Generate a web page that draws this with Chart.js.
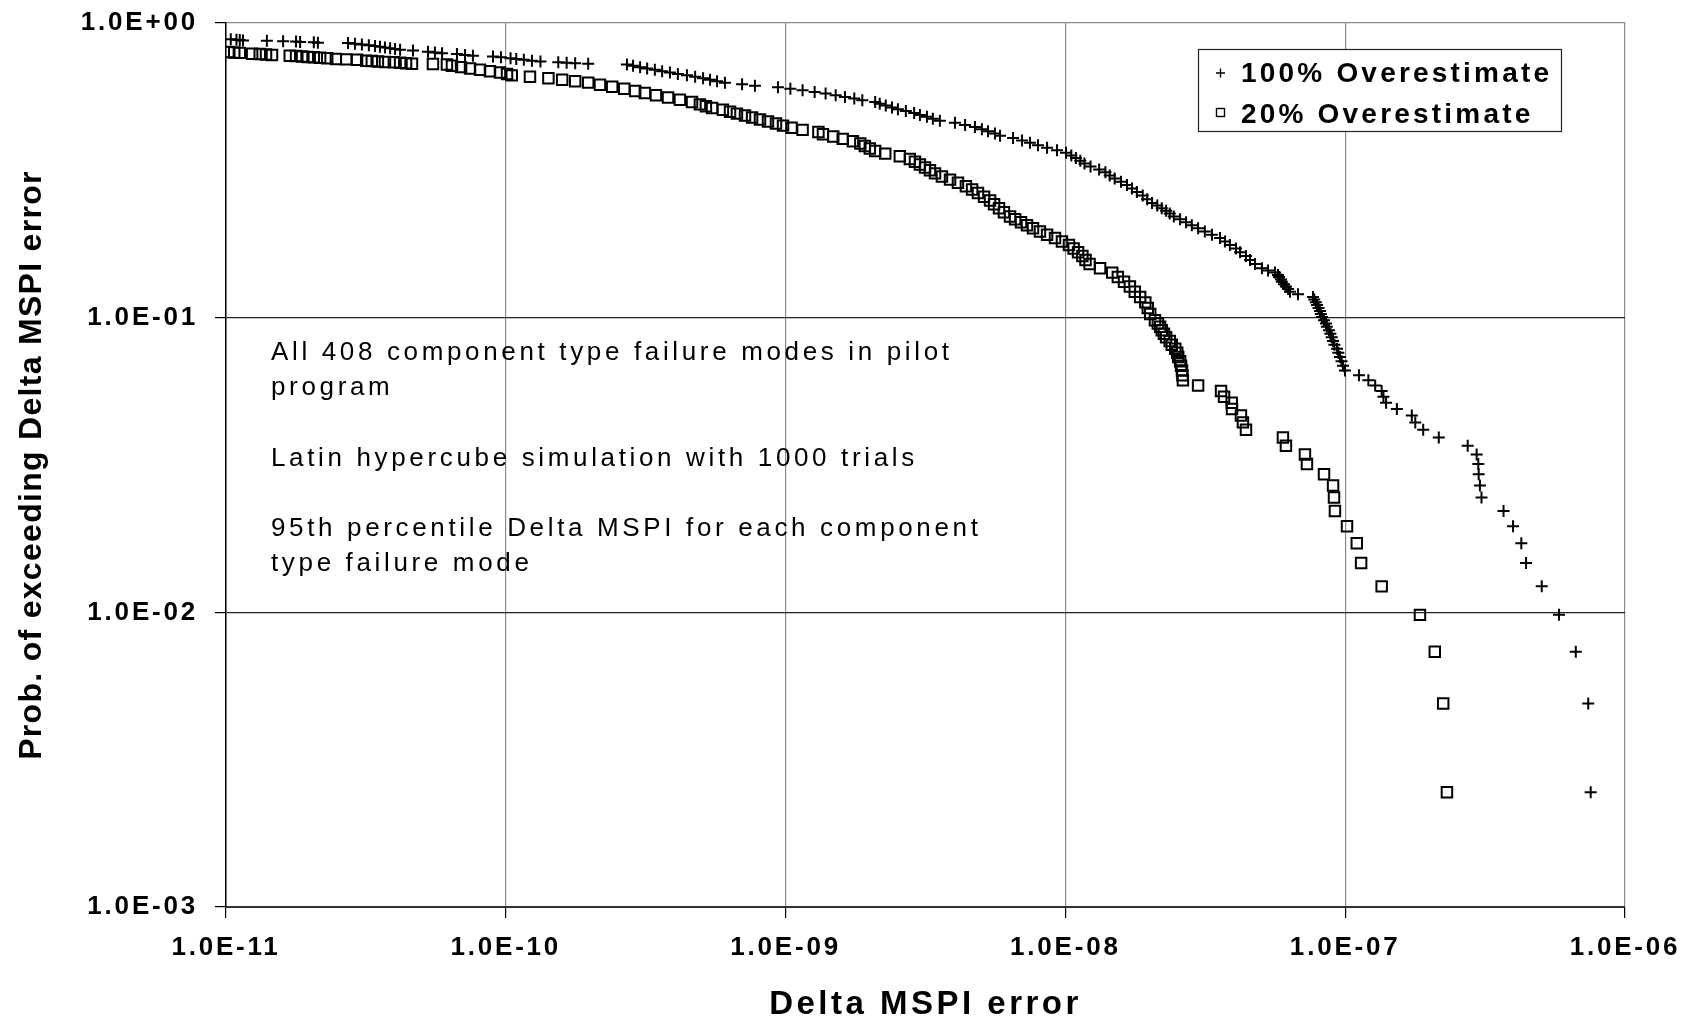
<!DOCTYPE html>
<html>
<head>
<meta charset="utf-8">
<script src="https://cdn.jsdelivr.net/npm/chart.js@4.4.1/dist/chart.umd.min.js"></script>
<style>
  html, body { margin: 0; padding: 0; background: #fff; }
  canvas { display: block; }
</style>
</head>
<body>
<canvas id="mspi" width="1690" height="1021"></canvas>
<script>
// Axis ticks (decades only)
const xTicks = [1e-11, 1e-10, 1e-9, 1e-8, 1e-7, 1e-6];
const xTickLabels = ['1.0E-11', '1.0E-10', '1.0E-09', '1.0E-08', '1.0E-07', '1.0E-06'];
const yTicks = [1e-3, 1e-2, 1e-1, 1];
const yTickLabels = ['1.0E-03', '1.0E-02', '1.0E-01', '1.0E+00'];

const seriesNames = ['100% Overestimate', '20% Overestimate'];

// 100% overestimate: Delta MSPI error and exceedance probability
const over100X = [
  7.54e-7, 7.39e-7, 6.67e-7, 5.81e-7, 5.04e-7, 4.43e-7, 4.26e-7, 3.98e-7, 3.68e-7, 3.07e-7,
  3.03e-7, 3.00e-7, 2.99e-7, 2.95e-7, 2.74e-7, 2.16e-7, 1.90e-7, 1.78e-7, 1.73e-7, 1.53e-7,
  1.40e-7, 1.37e-7, 1.35e-7, 1.28e-7, 1.21e-7, 1.12e-7, 9.98e-8, 9.82e-8, 9.70e-8, 9.58e-8,
  9.45e-8, 9.35e-8, 9.15e-8, 9.05e-8, 8.95e-8, 8.85e-8, 8.75e-8, 8.60e-8, 8.54e-8, 8.40e-8,
  8.26e-8, 8.18e-8, 8.13e-8, 8.03e-8, 7.93e-8, 7.85e-8, 7.75e-8, 7.67e-8, 6.78e-8, 6.35e-8,
  6.25e-8, 6.14e-8, 6.04e-8, 5.94e-8, 5.90e-8, 5.80e-8, 5.75e-8, 5.61e-8, 5.30e-8, 5.04e-8,
  4.76e-8, 4.57e-8, 4.42e-8, 4.21e-8, 4.07e-8, 3.87e-8, 3.72e-8, 3.57e-8, 3.34e-8, 3.15e-8,
  2.98e-8, 2.83e-8, 2.70e-8, 2.57e-8, 2.44e-8, 2.36e-8, 2.29e-8, 2.21e-8, 2.13e-8, 2.04e-8,
  1.96e-8, 1.89e-8, 1.80e-8, 1.73e-8, 1.66e-8, 1.58e-8, 1.50e-8, 1.44e-8, 1.39e-8, 1.32e-8,
  1.23e-8, 1.17e-8, 1.13e-8, 1.09e-8, 1.05e-8, 1.005e-8, 9.33e-9, 8.60e-9, 7.98e-9, 7.47e-9,
  7.00e-9, 6.50e-9, 5.84e-9, 5.60e-9, 5.29e-9, 5.03e-9, 4.75e-9, 4.38e-9, 4.03e-9, 3.56e-9,
  3.36e-9, 3.20e-9, 3.02e-9, 2.88e-9, 2.69e-9, 2.52e-9, 2.40e-9, 2.28e-9, 2.17e-9, 2.09e-9,
  1.88e-9, 1.76e-9, 1.63e-9, 1.51e-9, 1.39e-9, 1.27e-9, 1.15e-9, 1.04e-9, 9.39e-10, 7.77e-10,
  6.99e-10, 6.07e-10, 5.69e-10, 5.37e-10, 5.07e-10, 4.75e-10, 4.44e-10, 4.12e-10, 3.86e-10, 3.62e-10,
  3.41e-10, 3.20e-10, 3.02e-10, 2.85e-10, 2.71e-10, 1.97e-10, 1.77e-10, 1.65e-10, 1.54e-10, 1.33e-10,
  1.24e-10, 1.16e-10, 1.09e-10, 1.04e-10, 9.61e-11, 9.00e-11, 7.63e-11, 7.15e-11, 6.69e-11, 5.92e-11,
  5.58e-11, 5.27e-11, 4.66e-11, 4.19e-11, 4.02e-11, 3.86e-11, 3.70e-11, 3.55e-11, 3.41e-11, 3.24e-11,
  3.06e-11, 2.89e-11, 2.73e-11, 2.13e-11, 2.06e-11, 1.84e-11, 1.78e-11, 1.60e-11, 1.40e-11, 1.15e-11,
  1.12e-11, 1.09e-11, 1.04e-11
];
const over100P = [
  0.002451, 0.004902, 0.007353, 0.009804, 0.01225, 0.01471, 0.01716, 0.01961, 0.02206, 0.02451,
  0.02696, 0.02941, 0.03186, 0.03431, 0.03676, 0.03922, 0.04167, 0.04412, 0.04657, 0.04902,
  0.05147, 0.05392, 0.05637, 0.05882, 0.06127, 0.06373, 0.06618, 0.06863, 0.07108, 0.07353,
  0.07598, 0.07843, 0.08088, 0.08333, 0.08578, 0.08824, 0.09069, 0.09314, 0.09559, 0.09804,
  0.1005, 0.1029, 0.1054, 0.1078, 0.1103, 0.1127, 0.1152, 0.1176, 0.1201, 0.1225,
  0.1250, 0.1275, 0.1299, 0.1324, 0.1348, 0.1373, 0.1397, 0.1422, 0.1446, 0.1471,
  0.1520, 0.1569, 0.1618, 0.1667, 0.1716, 0.1765, 0.1814, 0.1863, 0.1912, 0.1961,
  0.2010, 0.2059, 0.2108, 0.2157, 0.2206, 0.2255, 0.2304, 0.2353, 0.2402, 0.2451,
  0.2525, 0.2598, 0.2672, 0.2745, 0.2819, 0.2892, 0.2966, 0.3039, 0.3113, 0.3186,
  0.3260, 0.3333, 0.3407, 0.3480, 0.3554, 0.3627, 0.3701, 0.3775, 0.3848, 0.3922,
  0.3995, 0.4069, 0.4142, 0.4216, 0.4289, 0.4363, 0.4436, 0.4510, 0.4583, 0.4657,
  0.4730, 0.4804, 0.4877, 0.4951, 0.5025, 0.5098, 0.5172, 0.5245, 0.5319, 0.5392,
  0.5466, 0.5539, 0.5613, 0.5686, 0.5760, 0.5833, 0.5907, 0.5980, 0.6054, 0.6127,
  0.6201, 0.6275, 0.6348, 0.6422, 0.6495, 0.6569, 0.6642, 0.6716, 0.6789, 0.6863,
  0.6936, 0.7010, 0.7083, 0.7157, 0.7230, 0.7279, 0.7304, 0.7328, 0.7353, 0.7402,
  0.7451, 0.7500, 0.7549, 0.7598, 0.7647, 0.7696, 0.7745, 0.7794, 0.7843, 0.7892,
  0.7941, 0.7990, 0.8064, 0.8113, 0.8162, 0.8211, 0.8260, 0.8309, 0.8358, 0.8407,
  0.8456, 0.8505, 0.8554, 0.8578, 0.8603, 0.8627, 0.8652, 0.8676, 0.8701, 0.8725,
  0.8750, 0.8775, 0.8799
];

// 20% overestimate
const over20X = [
  2.31e-7, 2.24e-7, 2.09e-7, 1.85e-7, 1.35e-7, 1.14e-7, 1.10e-7, 1.015e-7, 9.19e-8, 9.12e-8,
  9.05e-8, 8.40e-8, 7.30e-8, 7.18e-8, 6.14e-8, 5.99e-8, 4.42e-8, 4.31e-8, 4.24e-8, 3.94e-8,
  3.93e-8, 3.69e-8, 3.60e-8, 2.98e-8, 2.63e-8, 2.62e-8, 2.61e-8, 2.59e-8, 2.57e-8, 2.53e-8,
  2.51e-8, 2.47e-8, 2.40e-8, 2.36e-8, 2.29e-8, 2.25e-8, 2.21e-8, 2.18e-8, 2.14e-8, 2.09e-8,
  2.01e-8, 1.97e-8, 1.93e-8, 1.85e-8, 1.77e-8, 1.70e-8, 1.62e-8, 1.54e-8, 1.47e-8, 1.33e-8,
  1.22e-8, 1.18e-8, 1.15e-8, 1.11e-8, 1.07e-8, 1.03e-8, 9.72e-9, 9.18e-9, 8.60e-9, 8.11e-9,
  7.66e-9, 7.29e-9, 6.94e-9, 6.61e-9, 6.34e-9, 6.03e-9, 5.79e-9, 5.56e-9, 5.38e-9, 5.12e-9,
  4.87e-9, 4.64e-9, 4.41e-9, 4.13e-9, 3.87e-9, 3.62e-9, 3.42e-9, 3.28e-9, 3.15e-9, 3.02e-9,
  2.90e-9, 2.78e-9, 2.56e-9, 2.27e-9, 2.09e-9, 2.00e-9, 1.92e-9, 1.85e-9, 1.74e-9, 1.60e-9,
  1.48e-9, 1.36e-9, 1.31e-9, 1.15e-9, 1.05e-9, 9.79e-10, 9.24e-10, 8.65e-10, 8.10e-10, 7.59e-10,
  7.16e-10, 6.70e-10, 6.33e-10, 5.97e-10, 5.46e-10, 5.19e-10, 4.94e-10, 4.63e-10, 4.19e-10, 3.80e-10,
  3.44e-10, 3.14e-10, 2.90e-10, 2.65e-10, 2.40e-10, 2.17e-10, 1.97e-10, 1.77e-10, 1.59e-10, 1.42e-10,
  1.22e-10, 1.05e-10, 1.01e-10, 9.53e-11, 8.78e-11, 8.09e-11, 7.45e-11, 6.92e-11, 6.42e-11, 6.16e-11,
  5.49e-11, 4.62e-11, 4.40e-11, 4.19e-11, 3.98e-11, 3.70e-11, 3.49e-11, 3.32e-11, 3.17e-11, 2.94e-11,
  2.69e-11, 2.47e-11, 2.30e-11, 2.17e-11, 2.06e-11, 1.96e-11, 1.87e-11, 1.78e-11, 1.69e-11, 1.46e-11,
  1.39e-11, 1.32e-11, 1.24e-11, 1.12e-11, 1.07e-11, 1.02e-11
];
const over20P = [
  0.002451, 0.004902, 0.007353, 0.009804, 0.01225, 0.01471, 0.01716, 0.01961, 0.02206, 0.02451,
  0.02696, 0.02941, 0.03186, 0.03431, 0.03676, 0.03922, 0.04167, 0.04412, 0.04657, 0.04902,
  0.05147, 0.05392, 0.05637, 0.05882, 0.06127, 0.06373, 0.06618, 0.06863, 0.07108, 0.07353,
  0.07598, 0.07843, 0.08088, 0.08333, 0.08578, 0.08824, 0.09069, 0.09314, 0.09559, 0.09804,
  0.1029, 0.1078, 0.1127, 0.1176, 0.1225, 0.1275, 0.1324, 0.1373, 0.1422, 0.1471,
  0.1520, 0.1569, 0.1618, 0.1667, 0.1716, 0.1765, 0.1814, 0.1863, 0.1912, 0.1961,
  0.2010, 0.2059, 0.2108, 0.2157, 0.2206, 0.2279, 0.2353, 0.2426, 0.2500, 0.2574,
  0.2647, 0.2721, 0.2794, 0.2868, 0.2941, 0.3015, 0.3088, 0.3162, 0.3235, 0.3309,
  0.3382, 0.3456, 0.3529, 0.3603, 0.3676, 0.3750, 0.3824, 0.3897, 0.3971, 0.4044,
  0.4118, 0.4191, 0.4265, 0.4338, 0.4412, 0.4485, 0.4559, 0.4632, 0.4706, 0.4779,
  0.4853, 0.4926, 0.5000, 0.5074, 0.5147, 0.5221, 0.5294, 0.5392, 0.5490, 0.5588,
  0.5686, 0.5784, 0.5882, 0.5980, 0.6078, 0.6176, 0.6275, 0.6348, 0.6422, 0.6495,
  0.6569, 0.6642, 0.6716, 0.6789, 0.6863, 0.6936, 0.7010, 0.7083, 0.7157, 0.7230,
  0.7255, 0.7279, 0.7304, 0.7328, 0.7353, 0.7377, 0.7402, 0.7426, 0.7451, 0.7500,
  0.7525, 0.7549, 0.7598, 0.7623, 0.7647, 0.7672, 0.7696, 0.7721, 0.7745, 0.7794,
  0.7819, 0.7843, 0.7868, 0.7917, 0.7941, 0.7966
];

const noteLines = [
  'All 408 component type failure modes in pilot',
  'program',
  '',
  'Latin hypercube simulation with 1000 trials',
  '',
  '95th percentile Delta MSPI for each component',
  'type failure mode'
];

const FONT = '"Liberation Sans", Arial, sans-serif';

const toPoints = (xs, ps) => xs.map((x, i) => ({ x: x, y: ps[i] }));

// letter spacing for the axis text drawn by Chart.js: [tick labels, title]
const spacedText = {
  id: 'spacedText',
  afterUpdate(chart) {
    const spacing = { x: ['2.8px', '3.5px'], y: ['2.8px', '1.3px'] };
    Object.keys(spacing).forEach(id => {
      const s = chart.scales[id];
      if (s._spaced) return;
      const drawLabels = s.drawLabels.bind(s);
      const drawTitle = s.drawTitle.bind(s);
      s.drawLabels = function (area) {
        this.ctx.save();
        this.ctx.letterSpacing = spacing[id][0];
        drawLabels(area);
        this.ctx.restore();
      };
      s.drawTitle = function () {
        this.ctx.save();
        this.ctx.letterSpacing = spacing[id][1];
        drawTitle();
        this.ctx.restore();
      };
      s._spaced = true;
    });
  }
};

// notes text and the boxed legend
const notesAndLegend = {
  id: 'notesAndLegend',
  afterDraw(chart) {
    const ctx = chart.ctx;
    const area = chart.chartArea;
    ctx.save();
    ctx.fillStyle = '#000';
    ctx.textBaseline = 'alphabetic';
    ctx.textAlign = 'left';
    ctx.font = '26px ' + FONT;
    ctx.letterSpacing = '3.65px';
    noteLines.forEach((line, i) => {
      if (line) ctx.fillText(line, area.left + 45, 360 + i * 35.2);
    });

    // legend
    const lx = 1198, ly = 49, lw = 363, lh = 82;
    ctx.fillStyle = '#fff';
    ctx.fillRect(lx, ly, lw, lh);
    ctx.strokeStyle = '#222';
    ctx.lineWidth = 1.2;
    ctx.strokeRect(lx + 0.5, ly + 0.5, lw, lh);

    ctx.strokeStyle = '#000';
    ctx.lineWidth = 1.4;
    ctx.beginPath();
    ctx.moveTo(1216, 73); ctx.lineTo(1225, 73);
    ctx.moveTo(1220.5, 68.5); ctx.lineTo(1220.5, 77.5);
    ctx.stroke();
    ctx.strokeRect(1216.5, 108.5, 8, 8);

    ctx.fillStyle = '#000';
    ctx.font = 'bold 28px ' + FONT;
    ctx.letterSpacing = '3.2px';
    ctx.fillText(seriesNames[0], 1241, 82);
    ctx.fillText(seriesNames[1], 1241, 123);
    ctx.restore();
  }
};

new Chart(document.getElementById('mspi'), {
  type: 'scatter',
  data: {
    datasets: [
      {
        label: seriesNames[0],
        data: toPoints(over100X, over100P),
        pointStyle: 'cross',
        pointRadius: 6,
        pointBorderWidth: 2,
        borderColor: '#000',
        backgroundColor: '#000'
      },
      {
        label: seriesNames[1],
        data: toPoints(over20X, over20P),
        pointStyle: 'rect',
        pointRadius: 7.4,
        pointBorderWidth: 2,
        borderColor: '#000',
        backgroundColor: 'rgba(0,0,0,0)'
      }
    ]
  },
  options: {
    responsive: false,
    animation: false,
    events: [],
    layout: { padding: { left: 0, top: 23, right: 65, bottom: 0 } },
    plugins: {
      legend: { display: false },
      tooltip: { enabled: false }
    },
    scales: {
      x: {
        type: 'logarithmic',
        min: xTicks[0],
        max: xTicks[xTicks.length - 1],
        afterBuildTicks: scale => { scale.ticks = xTicks.map(v => ({ value: v })); },
        afterFit: scale => {
          scale.height = 114;
          scale.paddingLeft = 0;
          scale.paddingRight = 0;
        },
        grid: {
          color: '#8a8a8a',
          lineWidth: 1.2,
          tickColor: '#000',
          tickLength: 11
        },
        border: { color: '#333', width: 2 },
        ticks: {
          autoSkip: false,
          maxRotation: 0,
          padding: 17,
          color: '#000',
          font: { family: FONT, size: 26, weight: 'bold', lineHeight: 1 },
          callback: (v, i) => xTickLabels[i]
        },
        title: {
          display: true,
          text: 'Delta MSPI error',
          color: '#000',
          padding: { top: 0, bottom: 0 },
          font: { family: FONT, size: 33, weight: 'bold', lineHeight: 1 }
        }
      },
      y: {
        type: 'logarithmic',
        min: yTicks[0],
        max: yTicks[yTicks.length - 1],
        afterBuildTicks: scale => { scale.ticks = yTicks.map(v => ({ value: v })); },
        afterFit: scale => {
          scale.width = 226;
          scale.paddingTop = 0;
          scale.paddingBottom = 0;
        },
        grid: {
          color: ctx => (ctx.tick && ctx.tick.value === 1 ? '#8a8a8a' : '#222'),
          lineWidth: 1.2,
          tickColor: '#000',
          tickLength: 11
        },
        border: { color: '#000', width: 1.5 },
        ticks: {
          padding: 17,
          color: '#000',
          font: { family: FONT, size: 26, weight: 'bold', lineHeight: 1 },
          callback: (v, i) => yTickLabels[i]
        },
        title: {
          display: true,
          text: 'Prob. of exceeding Delta MSPI error',
          color: '#000',
          padding: { top: 16.5, bottom: 0 },
          font: { family: FONT, size: 32, weight: 'bold', lineHeight: 1 }
        }
      }
    }
  },
  plugins: [spacedText, notesAndLegend]
});
</script>
</body>
</html>
